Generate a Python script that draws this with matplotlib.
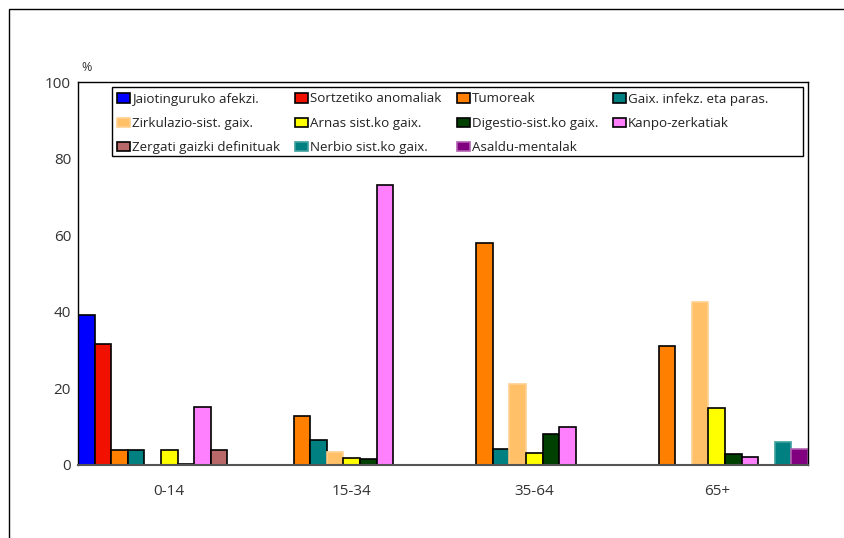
import numpy as np
import matplotlib.pyplot as plt
from matplotlib.patches import Rectangle

# age groups on the x axis
age_groups = ["0-14", "15-34", "35-64", "65+"]

# cause-of-death groups (legend order, row by row)
causes = [
    "Jaiotinguruko afekzi.",
    "Sortzetiko anomaliak",
    "Tumoreak",
    "Gaix. infekz. eta paras.",
    "Zirkulazio-sist. gaix.",
    "Arnas sist.ko gaix.",
    "Digestio-sist.ko gaix.",
    "Kanpo-zerkatiak",
    "Zergati gaizki definituak",
    "Nerbio sist.ko gaix.",
    "Asaldu-mentalak",
]

# percentages per cause, one value per age group
jaiotinguruko = [39.2, 0, 0, 0]
sortzetiko = [31.6, 0, 0, 0]
tumoreak = [3.8, 12.9, 57.9, 31.2]
infekzioak = [3.8, 6.5, 4.3, 0]
zirkulazioa = [0, 3.5, 21.1, 42.6]
arnas = [3.8, 1.8, 3.1, 14.8]
digestioa = [0.3, 1.5, 8.1, 3.0]
kanpo = [15.1, 73.2, 10.0, 2.1]
zergati = [3.8, 0, 0, 0]
nerbio = [0, 0, 0, 6.0]
asaldu = [0, 0, 0, 4.1]

series = [jaiotinguruko, sortzetiko, tumoreak, infekzioak, zirkulazioa,
          arnas, digestioa, kanpo, zergati, nerbio, asaldu]

colors = ["#0000FF", "#F21000", "#FF8000", "#008080", "#FFC068", "#FFFF00",
          "#004000", "#FF80FF", "#B86868", "#008080", "#800080"]
edges = ["black", "black", "black", "black", "#FFD090", "black",
         "black", "black", "black", "#40A0A0", "#B060B0"]

plt.rcParams["font.family"] = ["Open Sans", "DejaVu Sans"]

fig = plt.figure(figsize=(8.45, 5.38), dpi=100)
ax = fig.add_axes([78 / 845, 1 - 465 / 538, 730 / 845, 383 / 538])

n = len(series)
width = 1.0 / n
x = np.arange(len(age_groups))
handles = []
for i, vals in enumerate(series):
    pos = x - 0.5 + width * (i + 0.5)
    b = ax.bar(pos, vals, width=width, color=colors[i], edgecolor=edges[i],
               linewidth=1.2, label=causes[i])
    handles.append(b)

ax.set_xlim(-0.5, len(age_groups) - 0.5)
ax.set_ylim(0, 100)
ax.set_yticks([0, 20, 40, 60, 80, 100])
ax.set_xticks(x)
ax.set_xticklabels(age_groups)
ax.tick_params(length=0, labelsize=11, colors="#333333", pad=14)
ax.tick_params(axis="y", pad=5)
for sp in ax.spines.values():
    sp.set_color("black")
    sp.set_linewidth(1.0)
ax.spines["bottom"].set_color("#555555")
ax.spines["bottom"].set_linewidth(1.5)

ax.text(0.005, 102, "%", transform=ax.get_yaxis_transform(), fontsize=9,
        color="#333333", ha="left", va="bottom")

# legend box drawn by hand so it can run wider than the labels
ax.add_patch(Rectangle(((112 - 78) / 730, 1 - (156 - 82) / 383),
                       (803 - 112) / 730, (156 - 87) / 383,
                       transform=ax.transAxes, facecolor="white",
                       edgecolor="black", linewidth=1.0, zorder=4))

# matplotlib fills legend columns first, so reorder to read row by row
ncol = 4
nrow = int(np.ceil(n / ncol))
order = [r * ncol + c for c in range(ncol) for r in range(nrow) if r * ncol + c < n]
leg = ax.legend([handles[i] for i in order], [causes[i] for i in order],
                ncol=ncol, loc="upper left",
                bbox_to_anchor=((117 - 78) / 730, 1 - (92.5 - 82) / 383),
                fontsize=9.6, frameon=False, handlelength=1.0, handleheight=0.7,
                handletextpad=0.15, columnspacing=1.1, labelspacing=0.86,
                borderpad=0, borderaxespad=0)
leg.set_zorder(5)
for t in leg.get_texts():
    t.set_color("#222222")

# outer frame around the chart
fig.add_artist(Rectangle((9 / 845, -0.1), 1.1, 1 - 9 / 538 + 0.1,
                         transform=fig.transFigure, fill=False,
                         edgecolor="black", linewidth=1.0))

fig.savefig("out.png", dpi=100)
